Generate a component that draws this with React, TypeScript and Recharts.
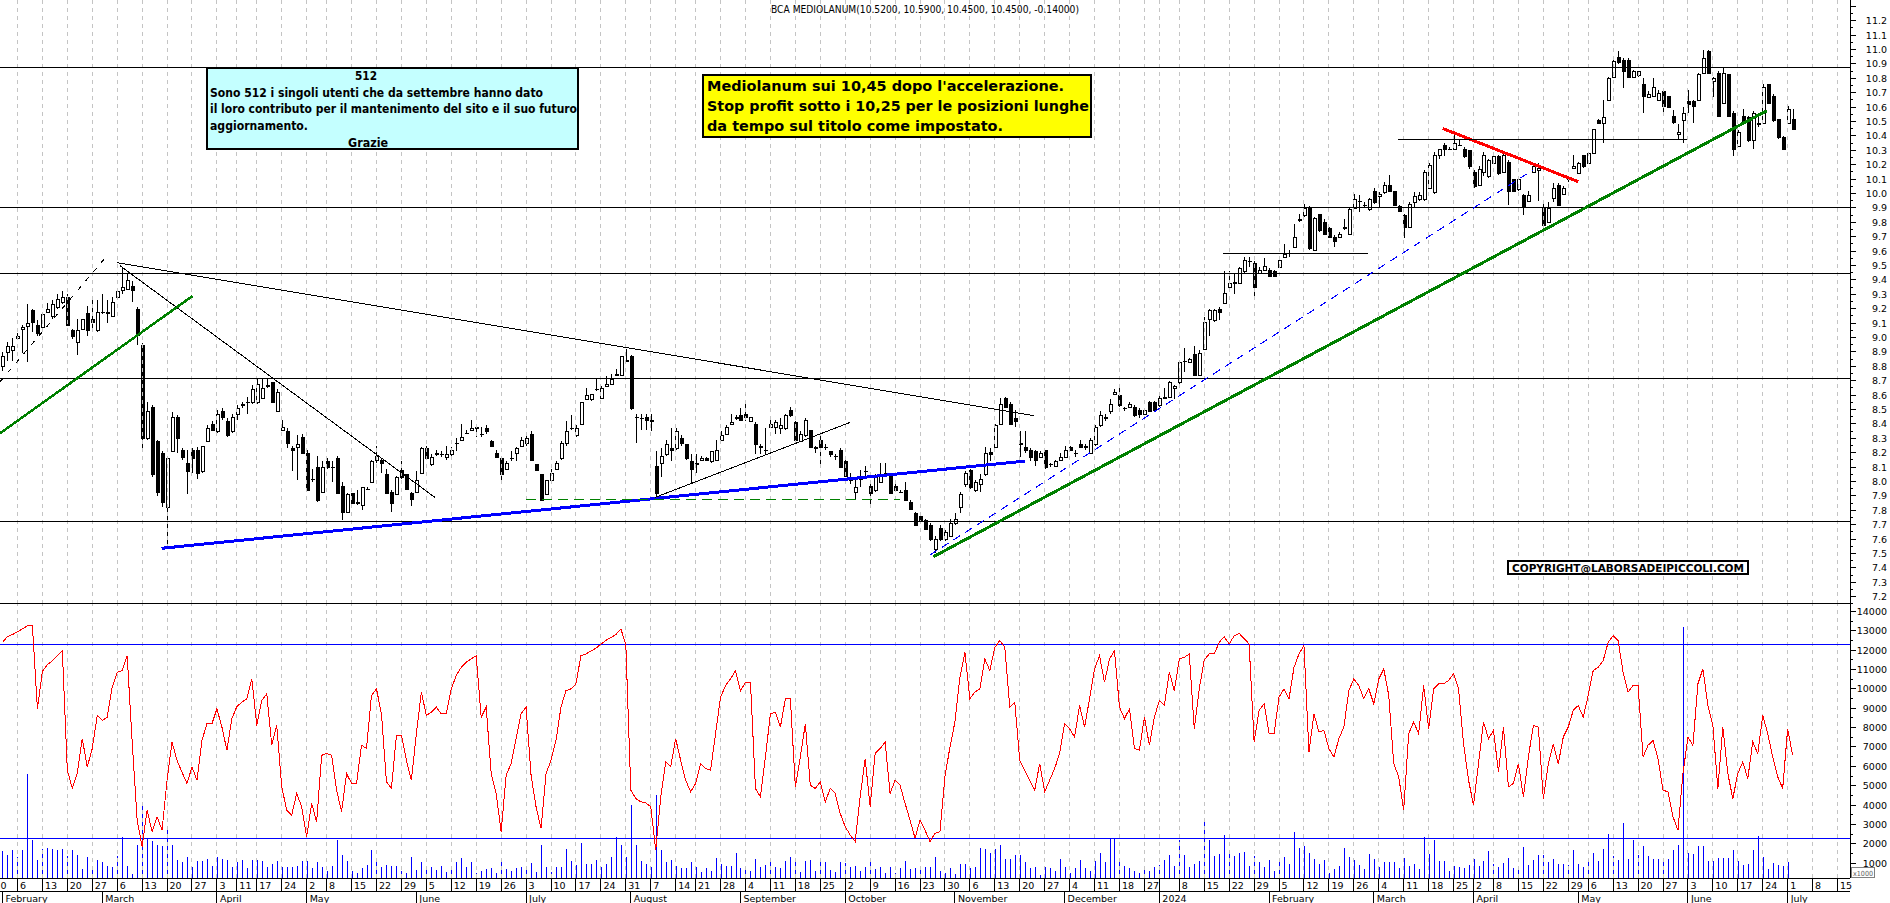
import React from "react";
import { ComposedChart, Bar, Line, XAxis, YAxis, ReferenceLine } from "recharts";

// daily candles, 1 Feb 2023 .. 2 Jul 2024 (index = trading session)
const opens = [
  8.80, 8.90, 8.91, 9.00, 9.06, 9.08, 9.19, 9.09, 9.07, 9.18,
  9.15, 9.21, 9.25, 9.28, 9.05, 8.97, 9.06, 9.17, 9.13, 9.05,
  9.18, 9.18, 9.15, 9.28, 9.33, 9.34, 9.36, 9.20, 8.95, 8.30,
  8.52, 8.28, 8.20, 7.82, 8.21, 8.45, 8.22, 8.13, 8.22, 8.22,
  8.07, 8.28, 8.40, 8.35, 8.49, 8.42, 8.35, 8.47, 8.53, 8.55,
  8.55, 8.55, 8.58, 8.66, 8.69, 8.49, 8.36, 8.35, 8.23, 8.24,
  8.31, 8.20, 8.02, 8.10, 7.93, 8.14, 8.10, 8.16, 7.97, 7.79,
  7.92, 7.86, 7.84, 7.95, 8.00, 8.15, 8.15, 8.05, 7.93, 7.91,
  8.08, 8.05, 7.92, 7.93, 8.06, 8.23, 8.12, 8.19, 8.19, 8.17,
  8.19, 8.27, 8.29, 8.34, 8.36, 8.37, 8.33, 8.37, 8.28, 8.20,
  8.16, 8.09, 8.165, 8.20, 8.25, 8.27, 8.33, 8.12, 8.05, 7.91,
  8.01, 8.09, 8.16, 8.27, 8.37, 8.32, 8.40, 8.57, 8.57, 8.64,
  8.58, 8.66, 8.68, 8.74, 8.74, 8.845, 8.87, 8.45, 8.44, 8.45,
  8.43, 8.11, 8.13, 8.19, 8.23, 8.23, 8.30, 8.26, 8.14, 8.12,
  8.15, 8.16, 8.14, 8.15, 8.29, 8.33, 8.40, 8.44, 8.46, 8.466,
  8.42, 8.40, 8.25, 8.22, 8.38, 8.38, 8.37, 8.37, 8.50, 8.41,
  8.28, 8.32, 8.36, 8.24, 8.29, 8.24, 8.21, 8.18, 8.22, 8.14,
  8.01, 7.93, 8.015, 8.07, 7.97, 7.94, 8.00, 8.06, 8.04, 7.97,
  7.93, 7.94, 7.86, 7.78, 7.76, 7.73, 7.70, 7.53, 7.68, 7.60,
  7.62, 7.71, 7.825, 7.98, 8.08, 7.94, 7.98, 8.05, 8.207, 8.24,
  8.40, 8.58, 8.54, 8.44, 8.265, 8.24, 8.22, 8.21, 8.17, 8.22,
  8.12, 8.11, 8.15, 8.17, 8.24, 8.20, 8.26, 8.25, 8.20, 8.26,
  8.39, 8.45, 8.49, 8.61, 8.60, 8.51, 8.52, 8.52, 8.50, 8.47,
  8.55, 8.55, 8.53, 8.58, 8.59, 8.65, 8.69, 8.84, 8.83, 8.885,
  8.74, 8.92, 9.13, 9.12, 9.20, 9.24, 9.35, 9.38, 9.38, 9.46,
  9.53, 9.52, 9.45, 9.47, 9.47, 9.46, 9.49, 9.56, 9.59, 9.63,
  9.815, 9.85, 9.90, 9.61, 9.86, 9.80, 9.76, 9.70, 9.70, 9.765,
  9.72, 9.90, 9.95, 9.92, 9.89, 10.02, 9.98, 10.01, 10.06, 10.02,
  9.91, 9.85, 9.77, 9.94, 9.96, 9.96, 10.04, 10.01, 10.27, 10.34,
  10.31, 10.31, 10.34, 10.31, 10.30, 10.15, 10.06, 10.15, 10.12, 10.21,
  10.26, 10.15, 10.22, 10.10, 10.03, 9.99, 9.95, 10.15, 10.16, 9.90,
  9.80, 9.97, 10.06, 10.00, 10.10, 10.18, 10.14, 10.27, 10.21, 10.28,
  10.51, 10.49, 10.65, 10.81, 10.95, 10.93, 10.93, 10.81, 10.82, 10.76,
  10.67, 10.68, 10.65, 10.71, 10.68, 10.54, 10.41, 10.51, 10.64, 10.64,
  10.65, 10.84, 10.99, 10.78, 10.84, 10.63, 10.83, 10.56, 10.33, 10.54,
  10.53, 10.37, 10.49, 10.49, 10.76, 10.68, 10.52, 10.39, 10.49, 10.52,
];

const highs = [
  8.90, 8.97, 9.00, 9.03, 9.09, 9.23, 9.20, 9.12, 9.17, 9.24,
  9.26, 9.30, 9.32, 9.30, 9.06, 9.13, 9.13, 9.22, 9.27, 9.26,
  9.30, 9.26, 9.28, 9.34, 9.48, 9.45, 9.39, 9.21, 8.96, 8.55,
  8.53, 8.29, 8.21, 8.17, 8.48, 8.46, 8.23, 8.22, 8.23, 8.24,
  8.25, 8.39, 8.42, 8.50, 8.51, 8.44, 8.47, 8.53, 8.55, 8.59,
  8.67, 8.72, 8.72, 8.72, 8.69, 8.64, 8.43, 8.37, 8.25, 8.32,
  8.33, 8.22, 8.09, 8.18, 8.14, 8.16, 8.14, 8.18, 8.00, 7.92,
  7.92, 7.94, 7.96, 7.96, 8.15, 8.25, 8.16, 8.09, 7.94, 8.04,
  8.14, 8.05, 7.93, 8.07, 8.24, 8.25, 8.19, 8.22, 8.21, 8.25,
  8.24, 8.30, 8.40, 8.36, 8.43, 8.39, 8.38, 8.39, 8.29, 8.22,
  8.17, 8.14, 8.21, 8.24, 8.31, 8.33, 8.35, 8.12, 8.05, 8.01,
  8.09, 8.14, 8.28, 8.42, 8.46, 8.39, 8.55, 8.65, 8.61, 8.72,
  8.66, 8.73, 8.75, 8.78, 8.87, 8.92, 8.88, 8.47, 8.47, 8.47,
  8.47, 8.21, 8.23, 8.29, 8.37, 8.37, 8.32, 8.26, 8.19, 8.19,
  8.18, 8.17, 8.21, 8.29, 8.35, 8.39, 8.47, 8.46, 8.51, 8.55,
  8.45, 8.41, 8.26, 8.37, 8.44, 8.43, 8.44, 8.47, 8.52, 8.42,
  8.35, 8.44, 8.36, 8.25, 8.34, 8.26, 8.21, 8.19, 8.23, 8.15,
  8.06, 8.01, 8.08, 8.11, 8.01, 8.05, 8.13, 8.13, 8.04, 7.99,
  7.94, 8.00, 7.87, 7.79, 7.78, 7.74, 7.71, 7.62, 7.70, 7.66,
  7.74, 7.78, 7.93, 8.07, 8.09, 8.01, 8.05, 8.24, 8.23, 8.40,
  8.58, 8.59, 8.55, 8.50, 8.35, 8.35, 8.23, 8.22, 8.21, 8.22,
  8.13, 8.15, 8.20, 8.25, 8.25, 8.22, 8.29, 8.26, 8.30, 8.39,
  8.49, 8.47, 8.57, 8.64, 8.65, 8.52, 8.55, 8.53, 8.51, 8.51,
  8.56, 8.56, 8.60, 8.65, 8.70, 8.67, 8.83, 8.925, 8.86, 8.94,
  8.91, 9.14, 9.20, 9.20, 9.21, 9.46, 9.46, 9.45, 9.49, 9.56,
  9.56, 9.53, 9.49, 9.55, 9.48, 9.47, 9.55, 9.65, 9.61, 9.79,
  9.86, 9.93, 9.91, 9.84, 9.86, 9.82, 9.77, 9.71, 9.73, 9.82,
  9.90, 10.00, 9.99, 9.94, 9.97, 10.04, 10.01, 10.08, 10.13, 10.02,
  9.92, 9.86, 9.94, 10.01, 10.01, 10.16, 10.21, 10.29, 10.31, 10.35,
  10.32, 10.42, 10.37, 10.32, 10.30, 10.16, 10.19, 10.29, 10.24, 10.29,
  10.27, 10.28, 10.23, 10.10, 10.11, 10.00, 10.02, 10.20, 10.21, 9.94,
  9.94, 10.07, 10.07, 10.05, 10.11, 10.27, 10.22, 10.27, 10.29, 10.45,
  10.515, 10.65, 10.81, 10.93, 10.99, 10.94, 10.94, 10.86, 10.85, 10.80,
  10.71, 10.80, 10.72, 10.71, 10.68, 10.58, 10.48, 10.60, 10.72, 10.65,
  10.84, 11.00, 11.00, 10.81, 10.85, 10.87, 10.83, 10.57, 10.44, 10.59,
  10.54, 10.57, 10.56, 10.76, 10.76, 10.69, 10.52, 10.40, 10.61, 10.59,
];

const lows = [
  8.77, 8.84, 8.84, 8.98, 8.89, 8.83, 9.04, 9.01, 9.06, 9.17,
  9.13, 9.20, 9.23, 9.09, 8.99, 8.88, 9.05, 9.01, 9.05, 9.04,
  9.16, 9.10, 9.15, 9.27, 9.30, 9.33, 9.25, 8.95, 8.21, 8.29,
  8.03, 7.90, 7.82, 7.54, 8.21, 8.20, 8.15, 7.91, 8.06, 8.02,
  8.06, 8.28, 8.35, 8.34, 8.43, 8.31, 8.34, 8.43, 8.51, 8.47,
  8.54, 8.54, 8.58, 8.65, 8.55, 8.48, 8.36, 8.23, 8.07, 8.01,
  8.20, 7.94, 8.00, 7.86, 7.92, 8.09, 8.00, 7.92, 7.73, 7.78,
  7.85, 7.84, 7.80, 7.94, 8.00, 8.13, 8.06, 7.92, 7.79, 7.91,
  8.02, 7.94, 7.83, 7.92, 8.06, 8.15, 8.11, 8.18, 8.17, 8.15,
  8.18, 8.21, 8.29, 8.33, 8.35, 8.31, 8.31, 8.33, 8.24, 8.16,
  7.98, 8.08, 8.14, 8.14, 8.24, 8.25, 8.14, 8.07, 7.87, 7.91,
  8.00, 8.08, 8.15, 8.25, 8.36, 8.31, 8.39, 8.57, 8.56, 8.63,
  8.58, 8.66, 8.68, 8.73, 8.73, 8.83, 8.50, 8.27, 8.36, 8.36,
  8.35, 7.88, 8.03, 8.18, 8.14, 8.22, 8.25, 8.15, 7.99, 8.06,
  8.14, 8.14, 8.13, 8.14, 8.28, 8.32, 8.40, 8.43, 8.42, 8.42,
  8.42, 8.19, 8.19, 8.19, 8.37, 8.33, 8.33, 8.36, 8.45, 8.28,
  8.28, 8.31, 8.23, 8.20, 8.10, 8.22, 8.17, 8.15, 8.10, 8.04,
  7.98, 7.88, 7.96, 8.02, 7.82, 7.93, 7.99, 8.05, 7.91, 7.93,
  7.92, 7.87, 7.80, 7.70, 7.73, 7.66, 7.59, 7.50, 7.59, 7.59,
  7.62, 7.70, 7.78, 7.96, 7.95, 7.93, 7.93, 8.04, 8.14, 8.24,
  8.40, 8.51, 8.39, 8.38, 8.17, 8.20, 8.14, 8.11, 8.16, 8.09,
  8.10, 8.10, 8.14, 8.16, 8.21, 8.17, 8.23, 8.22, 8.20, 8.25,
  8.38, 8.42, 8.47, 8.60, 8.52, 8.49, 8.51, 8.45, 8.44, 8.46,
  8.48, 8.49, 8.52, 8.57, 8.58, 8.57, 8.68, 8.76, 8.83, 8.73,
  8.73, 8.91, 9.01, 9.11, 9.12, 9.23, 9.33, 9.30, 9.38, 9.45,
  9.49, 9.29, 9.45, 9.46, 9.42, 9.42, 9.48, 9.55, 9.56, 9.62,
  9.80, 9.84, 9.61, 9.60, 9.73, 9.71, 9.69, 9.63, 9.70, 9.75,
  9.72, 9.90, 9.87, 9.90, 9.88, 9.93, 9.90, 10.00, 10.01, 9.91,
  9.87, 9.69, 9.76, 9.90, 9.95, 9.95, 10.03, 10.00, 10.24, 10.26,
  10.30, 10.30, 10.33, 10.25, 10.17, 10.04, 10.05, 10.12, 10.11, 10.21,
  10.13, 10.14, 9.92, 10.02, 10.02, 9.85, 9.95, 10.15, 9.95, 9.75,
  9.80, 9.94, 9.91, 9.99, 10.08, 10.17, 10.14, 10.18, 10.21, 10.28,
  10.48, 10.35, 10.65, 10.80, 10.90, 10.73, 10.80, 10.80, 10.81, 10.56,
  10.67, 10.68, 10.65, 10.55, 10.60, 10.48, 10.38, 10.35, 10.56, 10.49,
  10.65, 10.83, 10.83, 10.67, 10.53, 10.62, 10.54, 10.26, 10.33, 10.49,
  10.36, 10.31, 10.46, 10.49, 10.63, 10.50, 10.38, 10.31, 10.49, 10.45,
];

const closes = [
  8.87, 8.94, 8.94, 9.01, 9.07, 9.10, 9.11, 9.03, 9.16, 9.20,
  9.23, 9.27, 9.28, 9.09, 9.01, 9.05, 9.13, 9.05, 9.11, 9.18,
  9.18, 9.17, 9.25, 9.32, 9.35, 9.40, 9.33, 9.02, 8.30, 8.49,
  8.05, 7.93, 7.86, 8.16, 8.45, 8.30, 8.17, 8.07, 8.16, 8.06,
  8.25, 8.37, 8.36, 8.47, 8.45, 8.32, 8.45, 8.51, 8.54, 8.55,
  8.64, 8.68, 8.65, 8.67, 8.55, 8.62, 8.38, 8.27, 8.22, 8.26,
  8.20, 7.94, 8.02, 7.87, 8.10, 8.10, 8.10, 7.92, 7.79, 7.91,
  7.85, 7.85, 7.96, 7.945, 8.14, 8.18, 8.13, 7.92, 7.85, 8.03,
  8.03, 7.95, 7.88, 8.01, 8.23, 8.16, 8.17, 8.20, 8.19, 8.19,
  8.22, 8.27, 8.31, 8.34, 8.37, 8.38, 8.33, 8.35, 8.25, 8.17,
  8.05, 8.13, 8.165, 8.23, 8.29, 8.30, 8.15, 8.08, 7.87, 8.01,
  8.06, 8.13, 8.27, 8.35, 8.37, 8.37, 8.55, 8.60, 8.61, 8.645,
  8.65, 8.68, 8.71, 8.745, 8.87, 8.84, 8.51, 8.45, 8.44, 8.43,
  8.42, 7.92, 8.18, 8.26, 8.22, 8.35, 8.27, 8.16, 8.09, 8.13,
  8.16, 8.15, 8.21, 8.22, 8.32, 8.38, 8.41, 8.45, 8.43, 8.45,
  8.45, 8.26, 8.24, 8.22, 8.40, 8.41, 8.39, 8.46, 8.46, 8.29,
  8.33, 8.43, 8.24, 8.23, 8.24, 8.24, 8.19, 8.18, 8.10, 8.04,
  8.01, 7.96, 8.015, 8.07, 7.92, 8.03, 8.05, 8.06, 7.92, 7.94,
  7.93, 7.87, 7.81, 7.70, 7.73, 7.67, 7.60, 7.60, 7.60, 7.65,
  7.71, 7.74, 7.91, 8.06, 7.96, 8.00, 8.02, 8.20, 8.19, 8.39,
  8.54, 8.52, 8.40, 8.42, 8.26, 8.22, 8.17, 8.15, 8.20, 8.10,
  8.12, 8.14, 8.17, 8.22, 8.22, 8.20, 8.24, 8.24, 8.29, 8.38,
  8.46, 8.44, 8.54, 8.62, 8.53, 8.51, 8.54, 8.46, 8.47, 8.50,
  8.49, 8.50, 8.58, 8.59, 8.69, 8.66, 8.83, 8.84, 8.85, 8.74,
  8.89, 9.11, 9.19, 9.19, 9.18, 9.31, 9.38, 9.385, 9.48, 9.54,
  9.53, 9.35, 9.47, 9.50, 9.43, 9.43, 9.54, 9.58, 9.59, 9.70,
  9.82, 9.90, 9.62, 9.83, 9.75, 9.72, 9.70, 9.67, 9.72, 9.76,
  9.89, 9.96, 9.95, 9.92, 9.96, 9.94, 10.00, 10.06, 10.02, 9.92,
  9.88, 9.77, 9.93, 9.98, 9.99, 10.15, 10.20, 10.27, 10.31, 10.31,
  10.31, 10.35, 10.34, 10.26, 10.19, 10.05, 10.17, 10.27, 10.23, 10.26,
  10.14, 10.27, 10.02, 10.02, 10.10, 9.91, 9.99, 10.19, 10.18, 9.78,
  9.90, 10.04, 9.92, 10.04, 10.10, 10.19, 10.21, 10.19, 10.28, 10.45,
  10.49, 10.53, 10.80, 10.92, 10.91, 10.85, 10.81, 10.85, 10.85, 10.68,
  10.69, 10.74, 10.70, 10.61, 10.60, 10.50, 10.43, 10.56, 10.62, 10.61,
  10.83, 10.94, 10.84, 10.80, 10.54, 10.84, 10.54, 10.31, 10.43, 10.50,
  10.37, 10.56, 10.48, 10.74, 10.63, 10.51, 10.39, 10.31, 10.59, 10.45,
];

// volume (x1000 shares)
const volumes = [
  1650, 1430, 1690, 1345, 1690, 5630, 2200, 1170, 1720, 1770,
  1720, 1690, 1720, 1380, 1690, 1430, 690, 1345, 800, 1170,
  1090, 865, 830, 1380, 2340, 865, 450, 1940, 4120, 2290,
  2170, 1940, 1890, 2710, 1940, 1170, 1040, 1310, 830, 1140,
  1140, 1210, 865, 1310, 1210, 1170, 830, 1040, 1170, 745,
  1170, 1170, 1140, 830, 970, 1140, 830, 830, 830, 865,
  1140, 1140, 745, 1040, 830, 625, 865, 2200, 1430, 1140,
  625, 520, 745, 915, 1690, 1140, 800, 915, 865, 865,
  625, 490, 1345, 660, 1090, 830, 800, 660, 865, 570,
  830, 1040, 1290, 830, 1040, 490, 625, 690, 745, 490,
  1210, 690, 625, 745, 830, 800, 1000, 570, 1940, 830,
  570, 830, 830, 1720, 1140, 900, 2060, 970, 970, 1170,
  830, 970, 1345, 2340, 1940, 1310, 4000, 1940, 1140, 970,
  830, 4520, 1690, 1090, 1170, 865, 745, 745, 1040, 800,
  570, 745, 625, 1280, 970, 865, 865, 1550, 745, 745,
  625, 1240, 830, 915, 1040, 800, 745, 1140, 1345, 1040,
  570, 1140, 1170, 625, 1040, 1040, 660, 570, 1040, 1000,
  830, 865, 625, 830, 1090, 690, 830, 520, 830, 520,
  745, 1140, 690, 745, 800, 800, 830, 1345, 625, 520,
  745, 450, 970, 970, 745, 830, 1810, 1740, 1550, 1720,
  1940, 1240, 1210, 1430, 1410, 1090, 745, 800, 400, 800,
  745, 625, 1220, 800, 490, 745, 1170, 780, 625, 1140,
  1550, 1040, 2250, 2250, 1290, 865, 745, 625, 490, 800,
  625, 830, 915, 1170, 1430, 865, 2200, 1430, 800, 970,
  1140, 3260, 2200, 1380, 1480, 2460, 1480, 1380, 1550, 1580,
  865, 1380, 1050, 830, 1170, 625, 1170, 1310, 970, 2610,
  1790, 1890, 1520, 1220, 970, 1170, 520, 690, 865, 1790,
  1310, 1170, 915, 710, 1465, 1220, 830, 1090, 1040, 1040,
  745, 1260, 865, 950, 710, 2340, 1465, 2200, 1120, 1120,
  625, 865, 830, 745, 915, 1210, 865, 1120, 1640, 970,
  800, 1000, 1280, 780, 800, 1830, 915, 1170, 1430, 1430,
  1090, 1220, 970, 970, 915, 1690, 950, 830, 1040, 1520,
  1140, 1720, 2510, 1380, 1170, 3060, 1220, 2200, 1430, 1890,
  1380, 1210, 1210, 1040, 1210, 1690, 1940, 13170, 1520, 1480,
  1890, 1890, 1120, 1120, 1260, 1260, 1260, 1690, 1140, 915,
  970, 1690, 2400, 1345, 710, 1000, 915, 880, 1090, null,
];

// red oscillator, same scale as the lower axis
const oscillator = [
  12400, 12700, 12800, 12950, 13090, 13250, 13260, 8970, 10900, 11250,
  11450, 11710, 11970, 5800, 4860, 5630, 7430, 5970, 6920, 8630,
  8370, 8540, 10090, 10860, 10940, 11710, 7300, 3230, 1860, 3740,
  2630, 3400, 2710, 5290, 7260, 6310, 5700, 5120, 5970, 5290,
  7340, 8200, 8200, 8970, 8030, 6830, 8460, 9090, 9310, 9490,
  10510, 8110, 9400, 9740, 7090, 8110, 4940, 3740, 3490, 4600,
  3920, 2370, 4090, 3140, 6570, 6660, 6570, 4770, 3660, 5630,
  5120, 5120, 7090, 6920, 9660, 10000, 8710, 5200, 4860, 7600,
  7600, 6310, 5290, 7690, 9830, 8630, 8800, 9060, 8710, 8710,
  10000, 10690, 11110, 11370, 11550, 11710, 8540, 9060, 5630, 4600,
  2630, 5540, 6140, 7430, 8710, 9060, 5540, 3920, 2800, 5630,
  6310, 7340, 9060, 9910, 10000, 10260, 11710, 11800, 11950, 12100,
  12300, 12500, 12650, 12800, 13090, 12310, 4770, 4340, 4170, 4120,
  3920, 1690, 4400, 6230, 5970, 7430, 6310, 5290, 4690, 5120,
  6140, 5890, 5800, 7690, 9570, 10170, 10510, 10940, 9910, 10340,
  10340, 4860, 4430, 6490, 8710, 8800, 8030, 9490, 9490, 4940,
  6490, 8200, 5030, 4860, 5200, 4170, 4860, 4600, 3570, 2890,
  2460, 2120, 4430, 6400, 3920, 6660, 6920, 7260, 4600, 5290,
  5030, 4090, 3230, 2290, 3230, 2710, 2120, 2540, 2630, 5460,
  7000, 8290, 10600, 11890, 9490, 9830, 10000, 11540, 10940, 12140,
  12490, 12140, 9060, 9310, 6310, 5800, 5290, 4770, 6140, 4690,
  5290, 5890, 6660, 8200, 7940, 7510, 9140, 8030, 9490, 11030,
  11710, 10340, 11540, 11970, 9060, 8460, 8970, 6920, 6830, 8540,
  7090, 8540, 9400, 9140, 10860, 9910, 11540, 11630, 11800, 7940,
  10000, 11490, 11800, 11800, 12400, 12690, 12310, 12740, 12860, 12600,
  12310, 7260, 8880, 9230, 7690, 7690, 9570, 10000, 9490, 11110,
  11800, 12230, 6740, 8710, 7770, 7860, 6920, 6490, 7430, 8030,
  9910, 10510, 10170, 9490, 10000, 9230, 10510, 11030, 9660, 6140,
  5460, 3740, 7690, 8290, 7690, 10170, 7940, 10000, 10260, 10260,
  10430, 10770, 10000, 7170, 5290, 4000, 6140, 8290, 7430, 7860,
  5720, 8030, 4940, 5120, 6140, 4430, 6490, 8110, 8030, 4340,
  6140, 7170, 6140, 7510, 8030, 8890, 9140, 8540, 9660, 10940,
  11110, 11460, 12400, 12740, 12490, 10860, 9830, 10170, 10170, 6490,
  7090, 7340, 6400, 4770, 4690, 3400, 2710, 5630, 7510, 7090,
  10260, 11030, 9140, 8110, 4860, 8030, 5630, 4340, 5630, 6230,
  5370, 7260, 6660, 8630, 7690, 6490, 5460, 4860, 7940, 6570,
];

// Borsa Italiana closing days inside the window
const holidays = [
  "2023-04-07", "2023-04-10", "2023-05-01", "2023-08-15", "2023-12-25",
  "2023-12-26", "2024-01-01", "2024-03-29", "2024-04-01", "2024-05-01",
];
const firstSession = "2023-02-01";
const slotCount = 371; // sessions incl. the empty space on the right

const monthNames = [
  "January", "February", "March", "April", "May", "June", "July",
  "August", "September", "October", "November", "December",
];

// horizontal support / resistance levels (price)
const levels = [10.876, 9.904, 9.446, 8.716, 7.72];

// drawn lines: [session, price] -> [session, price]
const trendLines = [
  { a: [23, 9.52], b: [206.9, 8.457], color: "#000000", w: 1 },
  { a: [23.5, 9.5], b: [86.7, 7.89], color: "#000000", w: 1 },
  { a: [-0.5, 8.335], b: [38.1, 9.288], color: "#008000", w: 2.5 },
  { a: [-0.5, 8.693], b: [20.8, 9.561], color: "#000000", w: 1, dash: "5 7" },
  { a: [31.9, 7.536], b: [205.1, 8.142], color: "#0000ff", w: 3 },
  { a: [130.9, 7.89], b: [170.0, 8.411], color: "#000000", w: 1 },
  { a: [186.0, 7.49], b: [306.9, 10.163], color: "#0000ff", w: 1, dash: "8 6" },
  { a: [186.7, 7.478], b: [353.8, 10.575], color: "#008000", w: 3 },
  { a: [288.8, 10.452], b: [316.0, 10.082], color: "#ff0000", w: 3 },
  { a: [105, 7.875], b: [180, 7.875], color: "#008000", w: 1.5, dash: "10 6" },
  { a: [279.9, 10.376], b: [337.8, 10.376], color: "#000000", w: 1 },
  { a: [244.8, 9.584], b: [273.8, 9.584], color: "#000000", w: 1 },
];

const oscBands = [12300, 2300];

const X_DOMAIN = [-0.5, slotCount - 0.5];
const PRICE_DOMAIN = [7.1493, 11.3438];
const VOL_DOMAIN = [240, 14378];
const AXIS_FONT = "'DejaVu Sans', Verdana, sans-serif";
const NARROW = "'Liberation Sans Narrow', 'DejaVu Sans Condensed', 'Arial Narrow', sans-serif";

// session calendar
const sessions: Date[] = [];
{
  const d = new Date(firstSession + "T00:00:00Z");
  while (sessions.length < slotCount) {
    const dow = d.getUTCDay();
    const iso = d.toISOString().slice(0, 10);
    if (dow !== 0 && dow !== 6 && !holidays.includes(iso)) sessions.push(new Date(d.getTime()));
    d.setUTCDate(d.getUTCDate() + 1);
  }
}
const weekKey = (d: Date) => Math.floor((d.getTime() / 86400000 + 3) / 7);
const weekStarts: number[] = [];
const monthStarts: number[] = [];
sessions.forEach((d, i) => {
  if (i > 0 && weekKey(d) !== weekKey(sessions[i - 1])) weekStarts.push(i);
  if (i === 0 || d.getUTCMonth() !== sessions[i - 1].getUTCMonth()) monthStarts.push(i);
});
const labelled = new Set<number>();
{
  let last = -2; // the Jan 30 week, just off the left edge
  weekStarts.forEach((i) => {
    if (i - last >= 4) {
      labelled.add(i);
      last = i;
    }
  });
}
const weekSet = new Set(weekStarts);
const monthSet = new Set(monthStarts);
const axisTicks = Array.from(new Set([...weekStarts, ...monthStarts])).sort((a, b) => a - b);

const priceTicks = Array.from({ length: 84 }, (_, k) => Math.round((7.15 + k * 0.05) * 100) / 100);
const volTicks = Array.from({ length: 28 }, (_, k) => 500 + k * 500);

const rows = sessions.map((_, i) => ({
  i,
  range: i < opens.length ? [lows[i], highs[i]] : null,
  o: opens[i],
  c: closes[i],
  vol: volumes[i] ?? null,
  osc: oscillator[i] ?? null,
}));

const last = opens.length - 1;
const title = `BCA MEDIOLANUM(${opens[last].toFixed(4)}, ${highs[last].toFixed(4)}, ${lows[last].toFixed(
  4,
)}, ${closes[last].toFixed(4)}, ${(closes[last] - closes[last - 1]).toFixed(5)})`;

function Candle(props: any) {
  const { x, y, width, height, payload } = props;
  if (!payload || !payload.range || !isFinite(y) || !isFinite(height)) return <g />;
  const [lo, hi] = payload.range;
  const top = Math.min(y, y + height);
  const h = Math.abs(height);
  const px = Math.round(x + width / 2);
  const py = (v: number) => top + ((hi - v) / (hi - lo)) * h;
  const yo = py(payload.o);
  const yc = py(payload.c);
  const up = payload.c >= payload.o;
  const bTop = Math.round(Math.min(yo, yc));
  const bBot = Math.round(Math.max(yo, yc));
  return (
    <g>
      <line x1={px + 0.5} x2={px + 0.5} y1={top} y2={top + h} stroke="#000" strokeWidth={1} />
      {bBot - bTop < 1 ? (
        <line x1={px - 1} x2={px + 3} y1={bTop + 0.5} y2={bTop + 0.5} stroke="#000" strokeWidth={1} />
      ) : (
        <rect
          x={px - 0.5}
          y={bTop + 0.5}
          width={3}
          height={bBot - bTop}
          fill={up ? "#ffffff" : "#000000"}
          stroke="#000"
          strokeWidth={1}
        />
      )}
    </g>
  );
}

function VolumeBar(props: any) {
  const { x, y, width, height } = props;
  if (!isFinite(y) || !isFinite(height) || height === 0) return <g />;
  const px = Math.round(x + width / 2) + 0.5;
  return <line x1={px} x2={px} y1={Math.min(y, y + height)} y2={Math.max(y, y + height)} stroke="#0000ff" strokeWidth={1} />;
}

function PriceTick(props: any) {
  const { x, y, payload } = props;
  const v: number = payload.value;
  const major = Math.abs(v * 10 - Math.round(v * 10)) < 1e-6;
  const show = major && v > 7.15 && v < 11.25;
  return (
    <g>
      <line x1={x} x2={x + (major ? 6 : 3)} y1={y} y2={y} stroke="#000" />
      {show && (
        <text x={x + 37} y={y} textAnchor="end" dominantBaseline="central" fontSize={9.5} fontFamily={AXIS_FONT} fill="#000">
          {v.toFixed(1)}
        </text>
      )}
    </g>
  );
}

function VolTick(props: any) {
  const { x, y, payload } = props;
  const v: number = payload.value;
  const major = v % 1000 === 0;
  return (
    <g>
      <line x1={x} x2={x + (major ? 6 : 3)} y1={y} y2={y} stroke="#000" />
      {major && (
        <text x={x + 37} y={y} textAnchor="end" dominantBaseline="central" fontSize={9.5} fontFamily={AXIS_FONT} fill="#000">
          {v}
        </text>
      )}
    </g>
  );
}

function DateTick(props: any) {
  const { x, y, payload } = props;
  const i: number = payload.value;
  const d = sessions[i];
  if (!d) return <g />;
  const m = d.getUTCMonth();
  return (
    <g>
      {weekSet.has(i) && <line x1={x} x2={x} y1={y} y2={y + 13} stroke="#000" />}
      {labelled.has(i) && (
        <text x={x + 2.5} y={y + 10.5} fontSize={9.5} fontFamily={AXIS_FONT} fill="#000">
          {d.getUTCDate()}
        </text>
      )}
      {monthSet.has(i) && <line x1={x} x2={x} y1={y + 13} y2={y + 25} stroke="#000" />}
      {monthSet.has(i) && (
        <text x={x + 3} y={y + 23.5} fontSize={9.5} fontFamily={AXIS_FONT} fill="#000">
          {m === 0 ? String(d.getUTCFullYear()) : monthNames[m]}
        </text>
      )}
    </g>
  );
}

const gridLines = (prefix: string) =>
  weekStarts.map((i) => (
    <ReferenceLine key={prefix + i} x={i} stroke="#c4c4c4" strokeDasharray="4 4" ifOverflow="visible" />
  ));

export default function App() {
  return (
    <div style={{ position: "absolute", left: 0, top: 0, width: 1890, height: 903, overflow: "hidden", background: "#fff" }}>
      <style>{"svg line, svg rect, svg path { shape-rendering: crispEdges; }"}</style>

      <div style={{ position: "absolute", left: 0, top: 0 }}>
        <ComposedChart width={1890} height={604} data={rows} margin={{ top: 0, right: 0, bottom: 0, left: 0 }} barCategoryGap="19.9%">
          <XAxis type="number" dataKey="i" domain={X_DOMAIN} allowDataOverflow hide />
          <YAxis
            type="number"
            orientation="right"
            domain={PRICE_DOMAIN}
            allowDataOverflow
            ticks={priceTicks}
            interval={0}
            width={40}
            tickLine={false}
            tickSize={0}
            tickMargin={0}
            axisLine={{ stroke: "#000" }}
            tick={PriceTick}
          />
          {gridLines("g")}
          {levels.map((p) => (
            <ReferenceLine key={"l" + p} y={p} stroke="#000" strokeWidth={1} />
          ))}
          <Bar dataKey="range" shape={Candle} isAnimationActive={false} />
          {trendLines.map((t, k) => (
            <ReferenceLine
              key={"t" + k}
              segment={[
                { x: t.a[0], y: t.a[1] },
                { x: t.b[0], y: t.b[1] },
              ]}
              stroke={t.color}
              strokeWidth={t.w}
              strokeDasharray={t.dash}
              ifOverflow="visible"
            />
          ))}
        </ComposedChart>
      </div>

      <div style={{ position: "absolute", left: 0, top: 604 }}>
        <ComposedChart width={1890} height={299} data={rows} margin={{ top: 0, right: 0, bottom: 0, left: 0 }} barCategoryGap="19.9%">
          <XAxis
            type="number"
            dataKey="i"
            domain={X_DOMAIN}
            allowDataOverflow
            ticks={axisTicks}
            interval={0}
            height={25}
            tickLine={false}
            tickSize={0}
            tickMargin={0}
            axisLine={{ stroke: "#000" }}
            tick={DateTick}
          />
          <YAxis
            type="number"
            orientation="right"
            domain={VOL_DOMAIN}
            allowDataOverflow
            ticks={volTicks}
            interval={0}
            width={40}
            tickLine={false}
            tickSize={0}
            tickMargin={0}
            axisLine={{ stroke: "#000" }}
            tick={VolTick}
          />
          {gridLines("h")}
          {oscBands.map((v) => (
            <ReferenceLine key={"b" + v} y={v} stroke="#0000ff" strokeWidth={1} />
          ))}
          <Line type="linear" dataKey="osc" stroke="#ff0000" strokeWidth={1} dot={false} isAnimationActive={false} />
          <Bar dataKey="vol" shape={VolumeBar} isAnimationActive={false} />
        </ComposedChart>
      </div>

      <svg width={1890} height={903} style={{ position: "absolute", left: 0, top: 0, pointerEvents: "none" }}>
        <line x1={0} x2={1850} y1={603.5} y2={603.5} stroke="#000" />
        <line x1={0} x2={1850} y1={891.5} y2={891.5} stroke="#000" />
        {/* tail of the "30" (Jan 30) label that sits off the left edge */}
        <text x={0.5} y={888.8} fontSize={9.5} fontFamily={AXIS_FONT} fill="#000">0</text>

        <text x={771} y={12.5} fontSize={10} fontFamily={NARROW} fill="#000" textLength={308} lengthAdjust="spacingAndGlyphs">
          {title}
        </text>

        <rect x={207} y={68} width={371} height={81} fill="#c4ffff" stroke="#000" strokeWidth={2} />
        <g fontFamily={NARROW} fontSize={11.5} fontWeight="bold" fill="#000">
          <text x={355} y={80} textLength={22} lengthAdjust="spacingAndGlyphs">512</text>
          <text x={210} y={96.5} textLength={333} lengthAdjust="spacingAndGlyphs">
            Sono 512 i singoli utenti che da settembre hanno dato
          </text>
          <text x={210} y={113.3} textLength={367} lengthAdjust="spacingAndGlyphs">
            il loro contributo per il mantenimento del sito e il suo futuro
          </text>
          <text x={210} y={129.5} textLength={98} lengthAdjust="spacingAndGlyphs">aggiornamento.</text>
          <text x={348} y={146.5} textLength={40} lengthAdjust="spacingAndGlyphs">Grazie</text>
        </g>

        <rect x={703} y={75} width={388} height={62} fill="#ffff00" stroke="#000" strokeWidth={2} />
        <g fontFamily={NARROW} fontSize={14} fontWeight="bold" fill="#000">
          <text x={707} y={90.5} textLength={357} lengthAdjust="spacingAndGlyphs">
            Mediolanum sui 10,45 dopo l'accelerazione.
          </text>
          <text x={707} y={110.5} textLength={382} lengthAdjust="spacingAndGlyphs">
            Stop profit sotto i 10,25 per le posizioni lunghe
          </text>
          <text x={707} y={131} textLength={296} lengthAdjust="spacingAndGlyphs">
            da tempo sul titolo come impostato.
          </text>
        </g>

        <rect x={1508} y={561} width={240} height={13} fill="#ffffff" stroke="#000" strokeWidth={1.5} />
        <text x={1512} y={571.5} fontSize={10} fontWeight="bold" fontFamily={AXIS_FONT} fill="#000" textLength={232} lengthAdjust="spacingAndGlyphs">
          COPYRIGHT@LABORSADEIPICCOLI.COM
        </text>

        <rect x={1851.5} y={867.5} width={23} height={10} fill="#ffffff" stroke="#808080" strokeWidth={1} />
        <text x={1853} y={875.5} fontSize={7} fontFamily={AXIS_FONT} fill="#606060" textLength={20} lengthAdjust="spacingAndGlyphs">
          x1000
        </text>
      </svg>
    </div>
  );
}
